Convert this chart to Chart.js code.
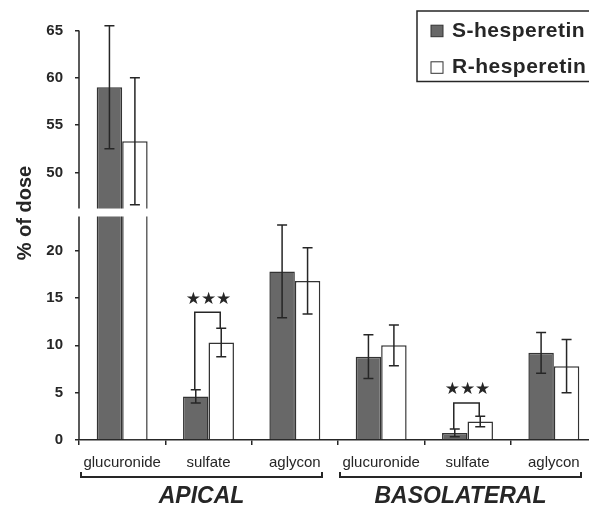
<!DOCTYPE html>
<html>
<head>
<meta charset="utf-8">
<script src="https://cdn.jsdelivr.net/npm/chart.js@4.4.0/dist/chart.umd.min.js"></script>
<style>
  html, body { margin: 0; padding: 0; background: #fff; }
  #wrap { width: 589px; height: 507px; }
</style>
</head>
<body>
<div id="wrap"><canvas id="chart"></canvas></div>
<script>
const categories = ['glucuronide', 'sulfate', 'aglycon', 'glucuronide', 'sulfate', 'aglycon'];
const groups = ['APICAL', 'BASOLATERAL'];
const sMeans = [59.0, 4.6, 17.8, 8.8, 0.75, 9.2];
const sErrors = [6.5, 0.7, 4.9, 2.3, 0.4, 2.15];
const rMeans = [53.3, 10.3, 16.8, 10.0, 1.95, 7.8];
const rErrors = [6.7, 1.5, 3.5, 2.15, 0.55, 2.8];
const lowTicks = [0, 5, 10, 15, 20];
const highTicks = [50, 55, 60, 65];
// significance brackets: category index and bracket level (% of dose)
const sigCats = [1, 4];
const sigLevels = [13.5, 3.9];

// broken axis: 23.6 .. 46.2 is cut out
const BREAK_LO = 23.6, BREAK_HI = 46.2, GAP = 0.84;
function toAxis(v) { return v <= BREAK_LO ? v : v - (BREAK_HI - BREAK_LO) + GAP; }
function fromAxis(v) { return v <= BREAK_LO ? v : v + (BREAK_HI - BREAK_LO) - GAP; }

const INK = '#262626';
const FONT = 'Liberation Sans';
const means = [sMeans, rMeans];
const errors = [sErrors, rErrors];
const PLOT_RIGHT = 597; // the plot runs a bit past the right edge of the picture

const decor = {
  id: 'decor',
  afterLayout(chart) {
    const x = chart.scales.x;
    chart.chartArea.right = PLOT_RIGHT;
    chart.chartArea.width = PLOT_RIGHT - chart.chartArea.left;
    x.right = PLOT_RIGHT;
    x.width = PLOT_RIGHT - x.left;
    x.configure();
  },
  afterDatasetsDraw(chart) {
    const {ctx, chartArea: a, scales: {x, y}} = chart;
    const yHi = y.getPixelForValue(toAxis(BREAK_HI));
    const yLo = y.getPixelForValue(BREAK_LO);
    ctx.save();
    // gap of the broken axis
    ctx.fillStyle = '#fff';
    ctx.fillRect(a.left + 1, yHi, a.right - a.left, yLo - yHi);
    // y axis in two pieces
    ctx.strokeStyle = INK;
    ctx.lineWidth = 1.5;
    ctx.beginPath();
    ctx.moveTo(a.left, y.getPixelForValue(toAxis(65)));
    ctx.lineTo(a.left, yHi);
    ctx.moveTo(a.left, yLo);
    ctx.lineTo(a.left, a.bottom);
    ctx.stroke();

    // error bars
    chart.data.datasets.forEach((ds, di) => {
      const meta = chart.getDatasetMeta(di);
      meta.data.forEach((bar, i) => {
        const top = y.getPixelForValue(toAxis(means[di][i] + errors[di][i]));
        const bot = y.getPixelForValue(toAxis(means[di][i] - errors[di][i]));
        ctx.beginPath();
        ctx.moveTo(bar.x, top); ctx.lineTo(bar.x, bot);
        ctx.moveTo(bar.x - 5, top); ctx.lineTo(bar.x + 5, top);
        ctx.moveTo(bar.x - 5, bot); ctx.lineTo(bar.x + 5, bot);
        ctx.stroke();
      });
    });

    // significance brackets
    const mS = chart.getDatasetMeta(0), mR = chart.getDatasetMeta(1);
    sigCats.forEach((c, k) => {
      const by = y.getPixelForValue(sigLevels[k]);
      const xs = mS.data[c].x - 1, xr = mR.data[c].x - 1;
      ctx.beginPath();
      ctx.moveTo(xs, y.getPixelForValue(sMeans[c] + sErrors[c]));
      ctx.lineTo(xs, by);
      ctx.lineTo(xr, by);
      ctx.lineTo(xr, y.getPixelForValue(rMeans[c] + rErrors[c]));
      ctx.stroke();
      ctx.fillStyle = INK;
      ctx.font = '17px "DejaVu Sans"';
      ctx.textAlign = 'center';
      ctx.textBaseline = 'middle';
      ctx.fillText('★★★', (xs + xr) / 2 + 1, by - 13);
    });

    // group brackets under the axis
    const catW = (a.right - a.left) / categories.length;
    const per = categories.length / groups.length;
    ctx.lineWidth = 2;
    groups.forEach((g, gi) => {
      const x0 = a.left + gi * per * catW + 2;
      const x1 = a.left + (gi + 1) * per * catW - 16;
      const ly = 477;
      ctx.beginPath();
      ctx.moveTo(x0, ly - 5); ctx.lineTo(x0, ly); ctx.lineTo(x1, ly); ctx.lineTo(x1, ly - 5);
      ctx.stroke();
      ctx.font = 'italic bold 23px "' + FONT + '"';
      ctx.textAlign = 'center';
      ctx.textBaseline = 'middle';
      ctx.fillText(g, (x0 + x1) / 2, 497);
    });

    // y title
    ctx.save();
    ctx.translate(25, 213);
    ctx.rotate(-Math.PI / 2);
    ctx.font = 'bold 20px "' + FONT + '"';
    ctx.textAlign = 'center';
    ctx.textBaseline = 'middle';
    ctx.fillText('% of dose', 0, 0);
    ctx.restore();

    // legend box
    ctx.lineWidth = 1.5;
    ctx.strokeRect(417, 11, 200, 70.5);
    chart.data.datasets.forEach((ds, di) => {
      const base = di === 0 ? 36.7 : 73.3;
      ctx.fillStyle = ds.backgroundColor;
      ctx.fillRect(431, base - 11.5, 12, 11.5);
      ctx.strokeStyle = ds.borderColor;
      ctx.lineWidth = 1;
      ctx.strokeRect(431, base - 11.5, 12, 11.5);
      ctx.fillStyle = INK;
      ctx.font = 'bold 21px "' + FONT + '"';
      ctx.letterSpacing = '0.5px';
      ctx.textAlign = 'left';
      ctx.textBaseline = 'alphabetic';
      ctx.fillText(ds.label, 452, base);
      ctx.letterSpacing = '0px';
    });
    ctx.restore();
  }
};

new Chart(document.getElementById('chart'), {
  type: 'bar',
  data: {
    labels: categories,
    datasets: [
      { label: 'S-hesperetin', data: sMeans.map(toAxis), backgroundColor: '#686868', borderColor: '#333333', borderWidth: 1.5 },
      { label: 'R-hesperetin', data: rMeans.map(toAxis), backgroundColor: '#ffffff', borderColor: '#333333', borderWidth: 1.5 }
    ]
  },
  options: {
    responsive: true,
    maintainAspectRatio: false,
    animation: false,
    layout: { padding: { top: 18, right: 0, left: 0, bottom: 0 } },
    datasets: { bar: { categoryPercentage: 0.59, barPercentage: 1.0 } },
    plugins: { legend: { display: false }, tooltip: { enabled: false } },
    scales: {
      x: {
        grid: { drawOnChartArea: false, drawTicks: true, tickLength: 5, color: INK, lineWidth: 1.5, offset: true },
        border: { display: true, color: INK, width: 1.5 },
        ticks: { color: INK, font: { family: FONT, size: 15 }, padding: 9, maxRotation: 0, autoSkip: false },
        afterFit(s) { s.height = 67; }
      },
      y: {
        min: 0,
        max: toAxis(66),
        afterBuildTicks(s) { s.ticks = lowTicks.concat(highTicks).map(v => ({ value: toAxis(v) })); },
        ticks: { callback: v => Math.round(fromAxis(v)), color: INK, font: { family: FONT, size: 15, weight: 'bold' }, padding: 12 },
        grid: { drawOnChartArea: false, tickLength: 4, color: INK, lineWidth: 1.5 },
        border: { display: false },
        afterFit(s) { s.width = 79; }
      }
    }
  },
  plugins: [decor]
});
</script>
</body>
</html>
